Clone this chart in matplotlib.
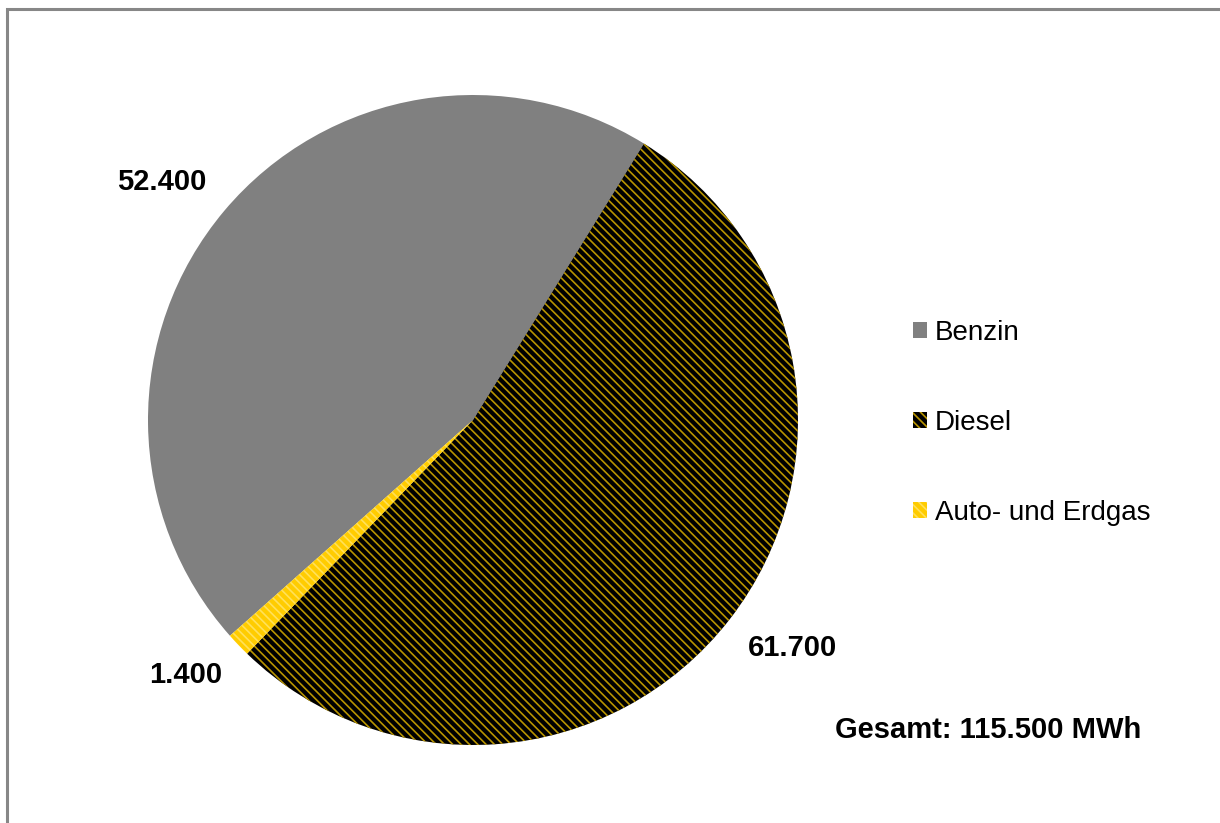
import numpy as np
import matplotlib.pyplot as plt
from matplotlib.patches import Rectangle

plt.rcParams['font.family'] = ['Liberation Sans', 'DejaVu Sans']
plt.rcParams['hatch.linewidth'] = 1.2

labels = ['Benzin', 'Diesel', 'Auto- und Erdgas']
values = [52400, 61700, 1400]
total_text = 'Gesamt: 115.500 MWh'

W, H = 1220, 823
fig = plt.figure(figsize=(W / 100, H / 100), dpi=100)

# frame of the original screenshot (only left and top edge visible)
fig.patches.append(Rectangle((7 / W, -0.1), 1.2, (H - 9) / H + 0.1, transform=fig.transFigure,
                             fill=False, edgecolor='#878787', linewidth=2.2))

ax = fig.add_axes([148 / W, 78 / H, 650 / W, 650 / H])
wedges, _ = ax.pie(values, startangle=221.6, counterclock=False, radius=1,
                   colors=['#808080', 'black', '#FFCC00'])
wedges[1].set_hatch('\\\\\\\\')
wedges[1].set_edgecolor('#B89400')
wedges[2].set_hatch('\\\\\\\\')
wedges[2].set_edgecolor('#FFE15A')
for w in wedges:
    w.set_linewidth(0)
ax.set_xlim(-1, 1)
ax.set_ylim(-1, 1)
ax.set_aspect('equal')

# value labels just outside the pie, corner facing the pie
for w, v in zip(wedges, values):
    ang = np.deg2rad((w.theta1 + w.theta2) / 2)
    c, s = np.cos(ang), np.sin(ang)
    txt = f"{v:,}".replace(",", ".")
    ax.text(1.07 * c, 1.07 * s, txt, ha='right' if c < 0 else 'left',
            va='top' if s < 0 else 'bottom',
            fontsize=21, fontweight='bold', clip_on=False)

leg = fig.legend(wedges, labels, loc='center left', bbox_to_anchor=(888 / W, (H - 423) / H),
                 frameon=False, fontsize=20, handlelength=0.5, handleheight=0.5,
                 handletextpad=0.3, labelspacing=2.3)

fig.text(988 / W, (H - 730) / H, total_text, ha='center', va='center',
         fontsize=21, fontweight='bold')

fig.savefig('out.png', dpi=100)
